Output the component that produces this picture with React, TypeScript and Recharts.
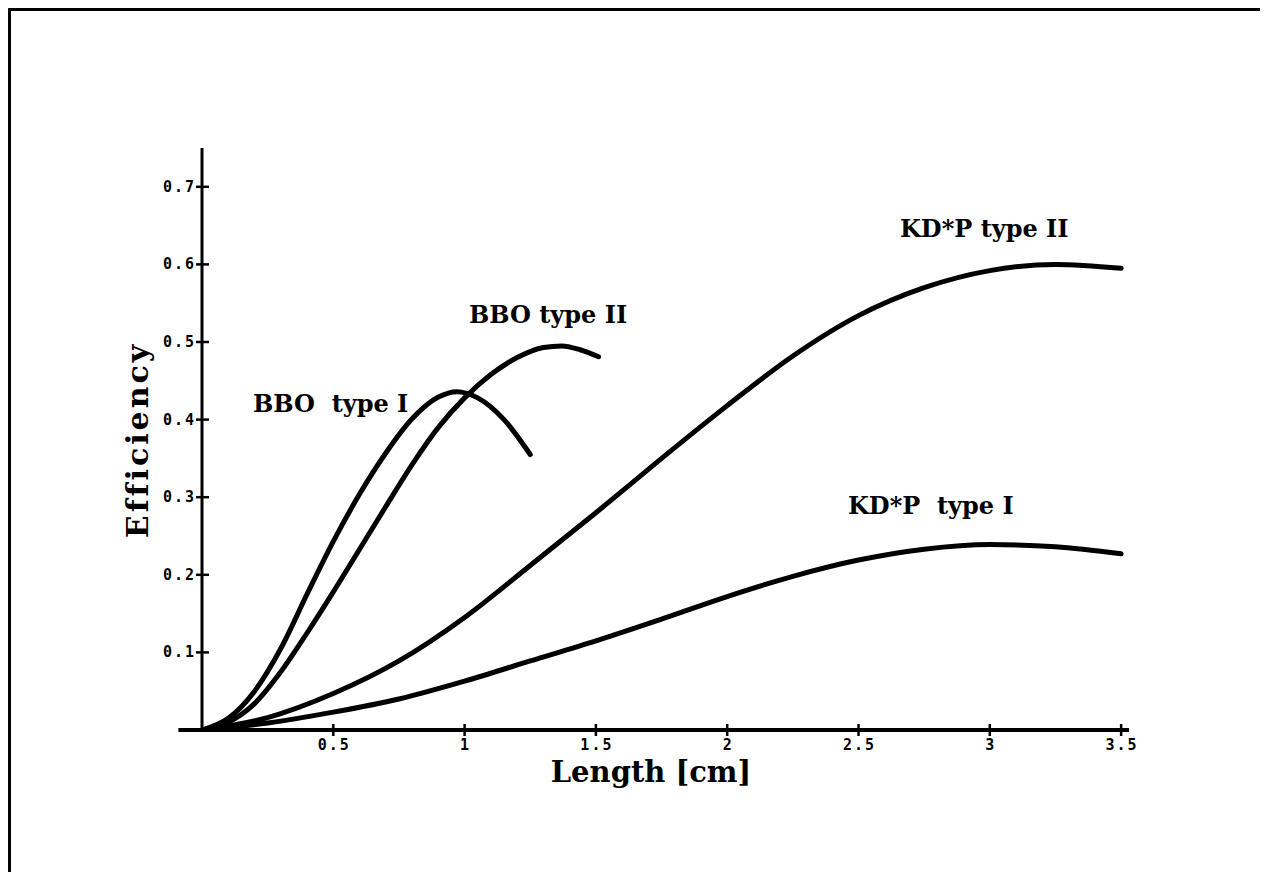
import { LineChart, Line, XAxis, YAxis, ReferenceLine } from 'recharts'

// lengths (cm) and efficiencies
const bboIx = [0, 0.1, 0.2, 0.3, 0.4, 0.5, 0.6, 0.7, 0.8, 0.9, 0.97, 1.05, 1.15, 1.25]
const bboIy = [0, 0.015, 0.05, 0.105, 0.175, 0.243, 0.304, 0.357, 0.401, 0.429, 0.436, 0.428, 0.4, 0.355]

const bboIIx = [0, 0.1, 0.2, 0.3, 0.4, 0.5, 0.6, 0.7, 0.8, 0.9, 1.0, 1.1, 1.2, 1.3, 1.37, 1.44, 1.51]
const bboIIy = [0, 0.01, 0.034, 0.075, 0.125, 0.178, 0.233, 0.288, 0.342, 0.39, 0.428, 0.458, 0.48, 0.493, 0.495, 0.49, 0.481]

const kdpIIx = [0, 0.25, 0.5, 0.75, 1.0, 1.25, 1.5, 1.75, 2.0, 2.25, 2.5, 2.75, 3.0, 3.25, 3.5]
const kdpIIy = [0, 0.016, 0.047, 0.089, 0.145, 0.212, 0.28, 0.35, 0.418, 0.482, 0.534, 0.57, 0.592, 0.6, 0.595]

const kdpIx = [0, 0.25, 0.5, 0.75, 1.0, 1.25, 1.5, 1.75, 2.0, 2.25, 2.5, 2.75, 3.0, 3.25, 3.5]
const kdpIy = [0, 0.009, 0.023, 0.04, 0.063, 0.089, 0.115, 0.143, 0.172, 0.198, 0.219, 0.233, 0.239, 0.236, 0.227]

const xTicks = [0.5, 1, 1.5, 2, 2.5, 3, 3.5]
const yTicks = [0.1, 0.2, 0.3, 0.4, 0.5, 0.6, 0.7]

const zip = (xs: number[], ys: number[]) => xs.map((x, i) => ({ x, y: ys[i] }))

const tickFont = {
  fontFamily: 'DejaVu Sans Mono', fontWeight: 'bold' as const, fontSize: 15, letterSpacing: 2, fill: '#000',
}
const titleFont = { fontFamily: 'DejaVu Serif', fontWeight: 'bold' as const, fill: '#000' }

const XTick = ({ x, y, payload }: any) => (
  <g>
    <line x1={x} x2={x} y1={y - 6} y2={y + 6} stroke="#000" strokeWidth={2.5} />
    <text x={x + 1} y={y + 20} textAnchor="middle" style={tickFont}>{String(payload.value)}</text>
  </g>
)

const YTick = ({ x, y, payload }: any) => (
  <g>
    <line x1={x - 6} x2={x + 7} y1={y} y2={y} stroke="#000" strokeWidth={2.5} />
    <text x={x - 6} y={y + 5} textAnchor="end" style={tickFont}>{payload.value.toFixed(1)}</text>
  </g>
)

export default function App() {
  const line = (data: { x: number; y: number }[], key: string) => (
    <Line
      key={key}
      data={data}
      dataKey="y"
      type="monotone"
      stroke="#000"
      strokeWidth={5}
      strokeLinecap="round"
      dot={false}
      activeDot={false}
      isAnimationActive={false}
    />
  )

  return (
    <div style={{ position: 'relative', width: 1252, height: 864 }}>
      <div style={{
        position: 'absolute', left: 0, top: 0, width: 1252, height: 864,
        borderTop: '3px solid #000', borderLeft: '3px solid #000', boxSizing: 'border-box',
      }} />
      <LineChart width={1252} height={864} margin={{ top: 140, right: 131, bottom: 112, left: 134 }}>
        <XAxis
          type="number"
          dataKey="x"
          domain={[0, 3.53]}
          ticks={xTicks}
          allowDataOverflow
          axisLine={false}
          tickLine={false}
          tickSize={0}
          tickMargin={0}
          height={30}
          tick={(p: any) => <XTick {...p} />}
        />
        <YAxis
          type="number"
          domain={[0, 0.75]}
          ticks={yTicks}
          allowDataOverflow
          width={60}
          axisLine={{ stroke: '#000', strokeWidth: 3 }}
          tickLine={false}
          tickSize={0}
          tickMargin={0}
          tick={(p: any) => <YTick {...p} />}
        />
        <ReferenceLine
          segment={[{ x: -0.09, y: 0 }, { x: 3.53, y: 0 }]}
          ifOverflow="visible"
          stroke="#000"
          strokeWidth={4}
        />
        {line(zip(bboIx, bboIy), 'bbo1')}
        {line(zip(bboIIx, bboIIy), 'bbo2')}
        {line(zip(kdpIIx, kdpIIy), 'kdp2')}
        {line(zip(kdpIx, kdpIy), 'kdp1')}

        <text x={245} y={404} fontSize={24} style={titleFont}>{'BBO\u00a0\u00a0type I'}</text>
        <text x={461} y={315} fontSize={24} style={titleFont}>BBO type II</text>
        <text x={892} y={229} fontSize={24} style={titleFont}>KD*P type II</text>
        <text x={840} y={506} fontSize={24} style={titleFont}>{'KD*P\u00a0\u00a0type I'}</text>

        <text x={643} y={774} fontSize={29} textAnchor="middle" style={titleFont}>Length [cm]</text>
        <text
          x={0}
          y={0}
          fontSize={30}
          textAnchor="middle"
          transform="translate(140 432) rotate(-90)"
          style={{ ...titleFont, letterSpacing: 3 }}
        >
          Efficiency
        </text>
      </LineChart>
    </div>
  )
}
